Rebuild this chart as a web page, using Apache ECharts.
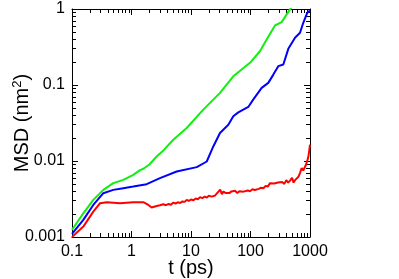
<!DOCTYPE html>
<html><head><meta charset="utf-8">
<script src="https://cdn.jsdelivr.net/npm/echarts@6/dist/echarts.min.js"></script>
<style>html,body{margin:0;padding:0;background:#fff}#c{width:399px;height:279px}</style>
</head><body><div id="c"></div>
<script>
const greenT = [0.1,0.155,0.228,0.336,0.494,0.728,1.07,1.39,1.58,2.0,2.65,3.5,5.04,8.47,16.1,30.7,51.4,98,144,187,258,334,461,560];
const greenV = [0.00124,0.00205,0.00308,0.00417,0.00511,0.00565,0.00658,0.00760,0.00790,0.0090,0.01147,0.0140,0.01905,0.0272,0.0474,0.0787,0.130,0.196,0.278,0.397,0.608,0.672,0.988,1.25];
const blueT = [0.1,0.155,0.228,0.336,0.494,0.728,1.07,1.8,3.01,5.75,12.5,18.4,23.7,30.7,42.4,51.4,62.4,91.8,111,154,199,242,293,356,432,560,679,771,901,1000];
const blueV = [0.0011,0.00168,0.00264,0.00377,0.00417,0.00439,0.00461,0.00496,0.00595,0.00727,0.00831,0.00985,0.01553,0.02335,0.0300,0.0387,0.0436,0.0514,0.0642,0.0916,0.1066,0.137,0.177,0.186,0.299,0.418,0.487,0.659,0.894,0.958];
const redT = [0.1,0.155,0.228,0.296,0.383,0.641,1.07,1.58,1.92,2.18,2.4,2.65,3.0,3.42,3.8,4.2,4.6,5.04,5.5,6.0,6.6,7.2,7.8,8.47,9.2,10,11,12,13,14.2,15.5,17,18.5,20,22,23.7,25,27,29,31,33,35,38,41,44,48,51,55,60,65,70,76,82,90,98,108,118,127,138,150,165,180,195,213,230,250,270,290,313,340,370,400,430,461,500,530,560,597,640,680,726,770,824,860,890,930,960,1000];
const redV = [0.001,0.00137,0.00216,0.00278,0.00287,0.00278,0.00287,0.00287,0.00264,0.00244,0.00250,0.00256,0.00262,0.00270,0.00262,0.00272,0.00266,0.00284,0.00276,0.00286,0.00280,0.00294,0.00290,0.00308,0.00298,0.00312,0.00304,0.00322,0.00314,0.00334,0.00325,0.00340,0.00330,0.00350,0.00340,0.00358,0.00348,0.00372,0.00352,0.00420,0.00365,0.00396,0.00380,0.00400,0.00378,0.00398,0.00385,0.00405,0.00380,0.00400,0.00384,0.00395,0.00388,0.00410,0.00400,0.00425,0.00415,0.00439,0.00430,0.00445,0.00438,0.00470,0.00460,0.00511,0.00490,0.00505,0.00495,0.00520,0.00505,0.00530,0.00500,0.00560,0.00520,0.00553,0.00600,0.00520,0.00560,0.00537,0.0062,0.0070,0.00806,0.0075,0.00782,0.0090,0.00985,0.0110,0.0128,0.0164];
const xTickLabels = ['0.1','1','10','100','1000'];
const yTickLabels = ['0.001','0.01','0.1','1'];

const pair = (t, v) => t.map((x, i) => [x, v[i]]);
const font = 'Liberation Sans';
const axisCommon = {
  type: 'log', logBase: 10,
  axisLine: { lineStyle: { color: '#000', width: 1 } },
  axisTick: { inside: true, length: 6, lineStyle: { color: '#000' } },
  minorTick: { show: true, splitNumber: 9, length: 4, lineStyle: { color: '#000' } },
  splitLine: { show: false },
};
const fmt = (labels, min) => (v) => {
  const k = Math.round(Math.log10(v) - Math.log10(min));
  return labels[k] !== undefined ? labels[k] : '';
};
const chart = echarts.init(document.getElementById('c'), null, { renderer: 'canvas' });
chart.setOption({
  animation: false,
  grid: { left: 72, right: 89, top: 9, bottom: 42, outerBoundsMode: 'none', containLabel: false },
  xAxis: [
    Object.assign({}, axisCommon, {
      min: 0.1, max: 1000, position: 'bottom',
      name: 't (ps)', nameLocation: 'middle', nameGap: 21, nameMoveOverlap: false,
      nameTextStyle: { fontFamily: font, fontSize: 20, color: '#000' },
      axisLabel: { fontFamily: font, fontSize: 16, color: '#000', margin: 7, formatter: fmt(xTickLabels, 0.1) },
    }),
    Object.assign({}, axisCommon, { min: 0.1, max: 1000, position: 'top', axisLabel: { show: false } }),
  ],
  yAxis: [
    Object.assign({}, axisCommon, {
      min: 0.001, max: 1, position: 'left',
      name: 'MSD (nm{sup|2})', nameLocation: 'middle', nameGap: 38, nameMoveOverlap: false,
      nameTextStyle: { fontFamily: font, fontSize: 20, color: '#000',
        rich: { sup: { fontFamily: font, fontSize: 13, color: '#000', verticalAlign: 'bottom', padding: [0, 0, 10, 0] } } },
      axisLabel: { fontFamily: font, fontSize: 16, color: '#000', margin: 7, formatter: fmt(yTickLabels, 0.001) },
    }),
    Object.assign({}, axisCommon, { min: 0.001, max: 1, position: 'right', axisLabel: { show: false } }),
  ],
  series: [
    { type: 'line', data: pair(greenT, greenV), showSymbol: false, lineStyle: { color: '#11ee11', width: 2 }, clip: true, z: 3 },
    { type: 'line', data: pair(blueT, blueV), showSymbol: false, lineStyle: { color: '#0000ff', width: 2 }, clip: true, z: 3 },
    { type: 'line', data: pair(redT, redV), showSymbol: false, lineStyle: { color: '#ff0000', width: 2 }, clip: true, z: 3 },
  ],
});
</script></body></html>
